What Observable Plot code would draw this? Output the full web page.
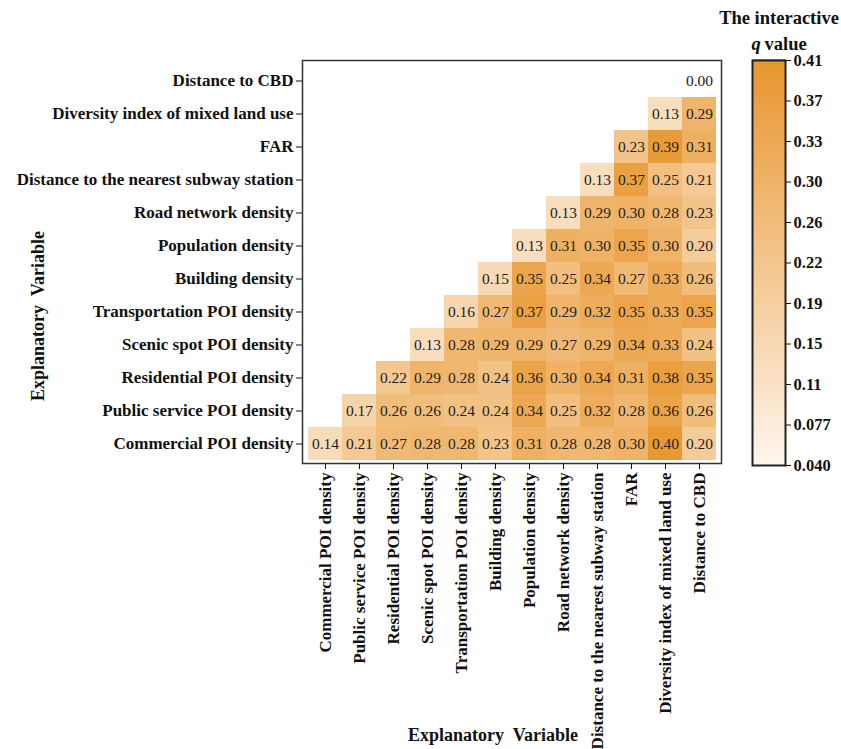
<!DOCTYPE html>
<html><head><meta charset="utf-8">
<script src="https://cdn.jsdelivr.net/npm/d3@7"></script>
<script src="https://cdn.jsdelivr.net/npm/@observablehq/plot@0.6"></script>
<style>
body{margin:0;background:#fff;}
#wrap{position:relative;width:841px;height:749px;overflow:hidden;}
#main{position:absolute;left:0;top:0;}
#legend{position:absolute;left:700px;top:0;}
</style></head><body>
<div id="wrap"><div id="main"></div><div id="legend"></div></div>
<script>
// Explanatory variables (column order left→right, row order bottom→top)
const variables = [
  "Commercial POI density",
  "Public service POI density",
  "Residential POI density",
  "Scenic spot POI density",
  "Transportation POI density",
  "Building density",
  "Population density",
  "Road network density",
  "Distance to the nearest subway station",
  "FAR",
  "Diversity index of mixed land use",
  "Distance to CBD"
];

// Interactive q values, one row per variable, starting at its own column
const rowCommercial     = [0.14, 0.21, 0.27, 0.28, 0.28, 0.23, 0.31, 0.28, 0.28, 0.30, 0.40, 0.20];
const rowPublicService  = [0.17, 0.26, 0.26, 0.24, 0.24, 0.34, 0.25, 0.32, 0.28, 0.36, 0.26];
const rowResidential    = [0.22, 0.29, 0.28, 0.24, 0.36, 0.30, 0.34, 0.31, 0.38, 0.35];
const rowScenic         = [0.13, 0.28, 0.29, 0.29, 0.27, 0.29, 0.34, 0.33, 0.24];
const rowTransportation = [0.16, 0.27, 0.37, 0.29, 0.32, 0.35, 0.33, 0.35];
const rowBuilding       = [0.15, 0.35, 0.25, 0.34, 0.27, 0.33, 0.26];
const rowPopulation     = [0.13, 0.31, 0.30, 0.35, 0.30, 0.20];
const rowRoad           = [0.13, 0.29, 0.30, 0.28, 0.23];
const rowSubway         = [0.13, 0.37, 0.25, 0.21];
const rowFAR            = [0.23, 0.39, 0.31];
const rowDiversity      = [0.13, 0.29];
const rowCBD            = [0.00];

const qRows = [rowCommercial, rowPublicService, rowResidential, rowScenic, rowTransportation,
  rowBuilding, rowPopulation, rowRoad, rowSubway, rowFAR, rowDiversity, rowCBD];

// Colour bar
const qMin = 0.040, qMax = 0.41;
const legendTickLabels = ["0.040", "0.077", "0.11", "0.15", "0.19", "0.22", "0.26", "0.30", "0.33", "0.37", "0.41"];

const axisTitle = "Explanatory\u00a0 Variable";
const legendTitle = "The interactive";

// Build cell table
const cells = [];
qRows.forEach((row, i) => row.forEach((v, k) => {
  cells.push({row: variables[i], col: variables[i + k], value: v});
}));

const colorOpts = {type: "linear", domain: [qMin, qMax], range: ["#fef5ec", "#e8962e"], interpolate: "rgb"};
const FONT = "'Liberation Serif', 'Times New Roman', serif";

const main = Plot.plot({
  width: 841, height: 749,
  marginLeft: 302, marginRight: 120, marginTop: 60, marginBottom: 286,
  style: {fontFamily: FONT, color: "#111", background: "#fff"},
  x: {type: "band", domain: variables, padding: 0, label: null},
  y: {type: "band", domain: variables.slice().reverse(), padding: 0, label: null},
  color: colorOpts,
  marks: [
    Plot.cell(cells, {x: "col", y: "row", fill: "value", inset: 0, shapeRendering: "crispEdges"}),
    Plot.text(cells, {x: "col", y: "row", text: d => d.value.toFixed(2), fill: "#222", fontSize: 15.5}),
    Plot.frame({stroke: "#333", strokeWidth: 1.5}),
    Plot.axisX({anchor: "bottom", tickRotate: -90, tickSize: 6, tickPadding: 3, fontSize: 17, fontWeight: "bold", label: null}),
    Plot.axisY({anchor: "left", tickSize: 6, tickPadding: 3, fontSize: 17, fontWeight: "bold", label: null}),
    Plot.text([axisTitle], {text: d => d, frameAnchor: "bottom", lineAnchor: "middle", textAnchor: "middle", dx: -19, dy: 272, fontSize: 18, fontWeight: "bold"}),
    Plot.text([axisTitle], {text: d => d, frameAnchor: "left", lineAnchor: "middle", textAnchor: "middle", rotate: -90, dx: -264, dy: 54, fontSize: 18, fontWeight: "bold"})
  ]
});
document.getElementById("main").appendChild(main);

// Vertical colour bar legend
const legendTicks = legendTickLabels.map((_, i) => qMin + i * (qMax - qMin) / (legendTickLabels.length - 1));
const nSlices = 150;
const slices = d3.range(nSlices).map(i => ({
  y1: qMin + i * (qMax - qMin) / nSlices,
  y2: qMin + (i + 1.5) * (qMax - qMin) / nSlices,
  v: qMin + (i + 0.5) * (qMax - qMin) / nSlices
}));

const legend = Plot.plot({
  width: 141, height: 480,
  marginLeft: 52, marginRight: 56, marginTop: 60, marginBottom: 15,
  style: {fontFamily: FONT, color: "#111", background: "transparent", overflow: "visible"},
  x: {domain: [0, 1], axis: null},
  y: {domain: [qMin, qMax], axis: null},
  color: colorOpts,
  marks: [
    Plot.rect(slices, {x1: 0, x2: 1, y1: "y1", y2: "y2", fill: "v", shapeRendering: "crispEdges"}),
    Plot.frame({stroke: "#222", strokeWidth: 2}),
    Plot.axisY(legendTicks, {anchor: "right", tickSize: 5, tickPadding: 3, fontSize: 16.5, fontWeight: "bold", label: null,
      tickFormat: d => legendTickLabels[legendTicks.indexOf(d)]}),
    Plot.text([legendTitle], {text: d => d, frameAnchor: "top", lineAnchor: "middle", dx: 10, dy: -42, fontSize: 18.5, fontWeight: "bold"}),
    Plot.text(["q"], {text: d => d, frameAnchor: "top-left", lineAnchor: "middle", textAnchor: "start", dx: -1, dy: -16, fontSize: 18.5, fontWeight: "bold", fontStyle: "italic"}),
    Plot.text(["value"], {text: d => d, frameAnchor: "top-left", lineAnchor: "middle", textAnchor: "start", dx: 12, dy: -16, fontSize: 18.5, fontWeight: "bold"})
  ]
});
document.getElementById("legend").appendChild(legend);
</script>
</body></html>
